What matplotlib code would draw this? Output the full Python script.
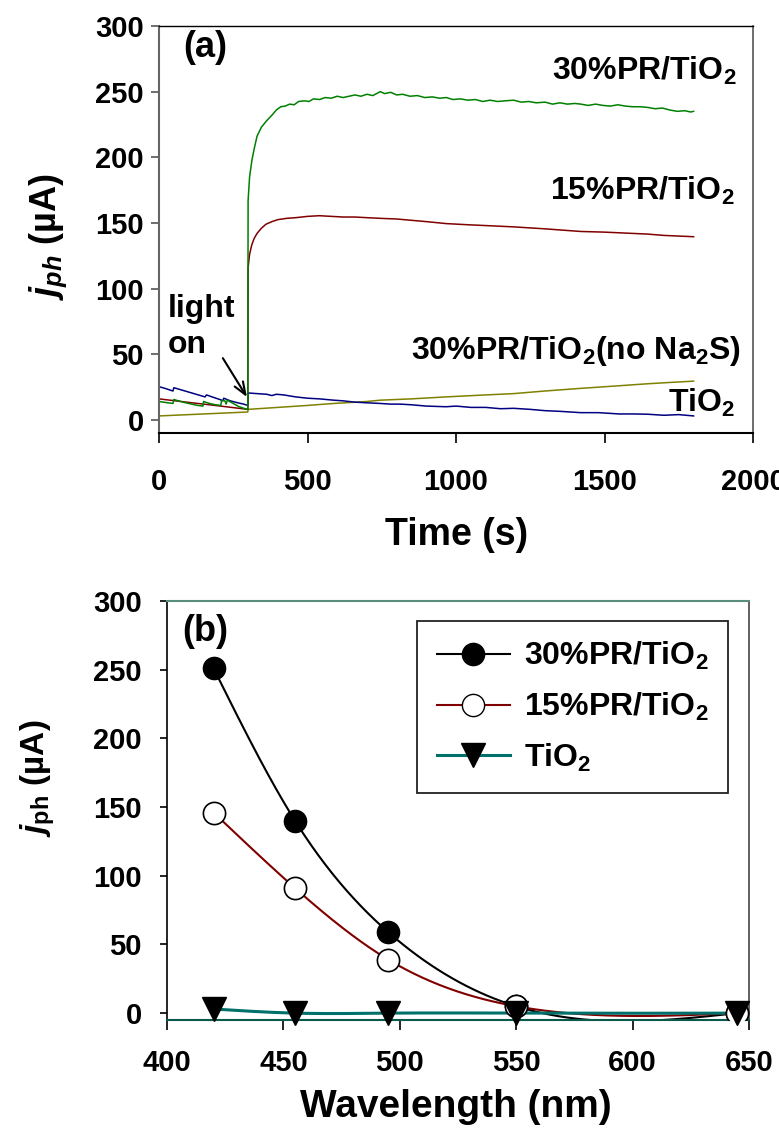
import numpy as np
import matplotlib
matplotlib.use("Agg")
import matplotlib.pyplot as plt
from matplotlib.lines import Line2D

plt.rcParams["font.family"] = "Liberation Sans"
plt.rcParams["font.weight"] = "bold"
plt.rcParams["mathtext.fontset"] = "custom"
plt.rcParams["mathtext.rm"] = "Liberation Sans:bold"
plt.rcParams["mathtext.it"] = "Liberation Sans:italic:bold"
plt.rcParams["mathtext.bf"] = "Liberation Sans:bold"

# ---------------- panel (a): photocurrent vs time ----------------
t_30 = [0, 15, 30, 47, 50, 70, 90, 110, 130, 148, 150, 170, 190, 208, 211, 222, 226, 230,
        250, 270, 290, 299, 300, 305, 313, 322, 330, 345, 363, 380, 395, 410, 425, 440,
        455, 470, 490, 505, 520, 540, 560, 580, 600, 620, 640, 660, 680, 700, 720, 745,
        760, 780, 800, 820, 845, 870, 895, 920, 945, 967, 990, 1015, 1040, 1065, 1090,
        1115, 1140, 1165, 1194, 1220, 1245, 1270, 1300, 1325, 1350, 1375, 1400, 1420,
        1445, 1470, 1495, 1520, 1545, 1570, 1595, 1620, 1645, 1670, 1695, 1720, 1745,
        1770, 1790, 1800]
j_30 = [14.0, 13.5, 13.0, 12.5, 15.5, 14.2, 13.0, 12.0, 11.0, 10.5, 14.0, 12.5, 11.5, 11.0,
        15.0, 14.5, 12.0, 15.0, 12.5, 10.0, 8.5, 8.0, 167, 185, 198, 208, 216, 223, 228,
        232, 236, 238.5, 239, 240.5, 240, 242.5, 243, 242.5, 244.5, 244, 245.5, 245, 246.5,
        245.5, 246.5, 247.5, 246.5, 248, 247, 250, 248.5, 249.5, 247.5, 248, 246.5, 247,
        245.5, 246, 245, 245.5, 244, 244.5, 243.5, 244, 242.5, 243.5, 242.5, 243, 243.5,
        242, 242.5, 241.5, 242, 240.5, 241.5, 240.5, 241, 240.5, 239.5, 240.5, 239.5, 239,
        240, 239, 238.5, 238.5, 238, 237, 237.5, 236, 235, 235.5, 234.5, 235]

t_15 = [0, 100, 200, 299, 300, 305, 312, 320, 330, 345, 360, 380, 400, 430, 460, 500, 540,
        580, 620, 660, 700, 745, 800, 850, 900, 967, 1050, 1100, 1194, 1300, 1420, 1500,
        1645, 1700, 1800]
j_15 = [16, 13.3, 10.7, 8, 116, 126, 133, 138, 142, 146, 149, 151, 152.5, 153.5, 154, 155,
        155.5, 155, 154.5, 154.5, 154, 153.5, 153, 152, 151, 149.5, 148.5, 148, 147, 145.5,
        143.5, 143, 141.5, 140.5, 139.5]

t_ti = [0, 20, 40, 47, 50, 80, 110, 140, 155, 160, 185, 205, 215, 218, 240, 265, 285, 299,
        300, 330, 363, 380, 395, 420, 460, 500, 540, 588, 620, 660, 700, 745, 780, 812, 850,
        900, 967, 1000, 1050, 1100, 1150, 1194, 1250, 1300, 1350, 1420, 1480, 1550, 1600,
        1645, 1700, 1750, 1800]
j_ti = [25.3, 24, 22.5, 22, 24.5, 22.5, 20.5, 18.5, 17.5, 19, 17, 15.5, 14.5, 16.5, 14.5, 13,
        12, 11, 20.5, 20, 19.5, 18.5, 19.5, 19, 17.5, 16.5, 16, 15, 14.5, 13.5, 13, 12.5, 12,
        12, 11.5, 10.5, 10, 10.5, 9.5, 9.5, 8.5, 8.8, 8, 7, 6.5, 5.5, 5.5, 4.5, 4.5, 4.3, 3.5,
        4, 3]

t_nos = [0, 100, 200, 299, 300, 400, 500, 588, 700, 745, 850, 967, 1100, 1194, 1300, 1420,
         1550, 1645, 1720, 1800]
j_nos = [3, 4, 5, 6, 8, 9.5, 11, 12.5, 14, 15, 16, 17.5, 19, 20, 22, 24, 26, 27.5, 28.5, 29.5]

# ---------------- panel (b): photocurrent vs wavelength ----------------
wavelength = [420, 455, 495, 550, 645]
jb_30 = [251, 140, 59, 5, 0]
jb_15 = [146, 91, 39, 5, 0]
jb_ti = [3, 0, 0, 0, 0]


def smooth_curve(x, y, n=300):
    """Natural cubic spline through the points (drawing helper for the smooth line)."""
    x = np.asarray(x, float)
    y = np.asarray(y, float)
    h = np.diff(x)
    m = len(x)
    A = np.zeros((m, m))
    b = np.zeros(m)
    A[0, 0] = A[-1, -1] = 1
    for i in range(1, m - 1):
        A[i, i - 1] = h[i - 1]
        A[i, i] = 2 * (h[i - 1] + h[i])
        A[i, i + 1] = h[i]
        b[i] = 3 * ((y[i + 1] - y[i]) / h[i] - (y[i] - y[i - 1]) / h[i - 1])
    c = np.linalg.solve(A, b)
    xs = np.linspace(x[0], x[-1], n)
    idx = np.clip(np.searchsorted(x, xs) - 1, 0, m - 2)
    dx = xs - x[idx]
    bc = (y[idx + 1] - y[idx]) / h[idx] - h[idx] * (2 * c[idx] + c[idx + 1]) / 3
    d = (c[idx + 1] - c[idx]) / (3 * h[idx])
    return xs, y[idx] + bc * dx + c[idx] * dx ** 2 + d * dx ** 3


W, H = 779, 1144
fig = plt.figure(figsize=(W / 100, H / 100), dpi=100)

# ---------- (a) ----------
axa = fig.add_axes([159 / W, 1 - 433 / H, 594 / W, 407 / H])
axa.plot(t_nos, j_nos, color="#808000", lw=1.1)
axa.plot(t_ti, j_ti, color="#000080", lw=1.1)
axa.plot(t_15, j_15, color="#800000", lw=1.1)
axa.plot(t_30, j_30, color="#008000", lw=1.1)
axa.set_xlim(0, 2000)
axa.set_ylim(-10, 300)
axa.set_xticks([0, 500, 1000, 1500, 2000])
axa.set_yticks([0, 50, 100, 150, 200, 250, 300])
axa.tick_params(axis="x", direction="out", length=7, width=1.2, pad=18, labelsize=21)
axa.tick_params(axis="y", direction="out", length=6, width=1.2, pad=5, labelsize=21,
                color="#555555")
axa.spines["left"].set_color("#666666")
axa.spines["left"].set_linewidth(1.5)
axa.spines["bottom"].set_linewidth(1.5)
axa.spines["top"].set_linewidth(1.0)
axa.spines["right"].set_color("#555555")
axa.spines["right"].set_linewidth(1.2)

axa.text(80, 284, "(a)", fontsize=26, va="center", ha="left")
txt = dict(fontsize=23, ha="right", va="baseline")
axa.text(1946, 259, r"30%PR/TiO$_2$", **txt)
axa.text(1939, 167.5, r"15%PR/TiO$_2$", **txt)
axa.text(1960, 46.4, r"30%PR/TiO$_2$(no Na$_2$S)", **txt)
axa.text(1939, 6, r"TiO$_2$", **txt)
axa.text(30, 78.6, "light", fontsize=23, ha="left", va="baseline")
axa.text(30, 51, "on", fontsize=23, ha="left", va="baseline")
axa.annotate("", xy=(296, 17.4), xytext=(215, 47),
             arrowprops=dict(arrowstyle="->,head_length=0.9,head_width=0.35",
                             color="black", lw=1.5, shrinkA=0, shrinkB=0))

fig.text(48 / W, 1 - 236 / H, r"$j_{ph}$ (µA)", fontsize=26, rotation=90,
         ha="center", va="center")
fig.text(457 / W, 1 - 535 / H, "Time (s)", fontsize=27, ha="center", va="center")

# ---------- (b) ----------
axb = fig.add_axes([167 / W, 1 - 1020 / H, 582 / W, 419 / H])
xs, ys = smooth_curve(wavelength, jb_30)
axb.plot(xs, ys, color="black", lw=1.5, zorder=2)
xs, ys = smooth_curve(wavelength, jb_15)
axb.plot(xs, ys, color="#800000", lw=1.5, zorder=2)
xs, ys = smooth_curve(wavelength, jb_ti)
axb.plot(xs, ys, color="#00706a", lw=2.2, zorder=3)
axb.plot(wavelength, jb_30, ls="none", marker="o", ms=16, mfc="black", mec="black", zorder=4)
axb.plot(wavelength, jb_15, ls="none", marker="o", ms=16, mfc="white", mec="black",
         mew=1.2, zorder=5)
axb.plot(wavelength, jb_ti, ls="none", marker="v", ms=17, mfc="black", mec="black",
         zorder=6, clip_on=False)
axb.set_xlim(400, 650)
axb.set_ylim(-5, 300)
axb.set_xticks([400, 450, 500, 550, 600, 650])
axb.set_yticks([0, 50, 100, 150, 200, 250, 300])
axb.tick_params(axis="x", direction="out", length=7, width=1.2, pad=14, labelsize=21)
axb.tick_params(axis="y", direction="out", length=5, width=1.2, pad=13, labelsize=21)
axb.spines["top"].set_color("#5a8f80")
axb.spines["top"].set_linewidth(1.5)
axb.spines["bottom"].set_color("#0a5a4a")
axb.spines["bottom"].set_linewidth(1.5)
axb.spines["left"].set_linewidth(1.2)
axb.spines["right"].set_color("#444444")
axb.spines["right"].set_linewidth(1.2)

axb.text(406.5, 277.5, "(b)", fontsize=26, va="center", ha="left")

handles = [
    Line2D([], [], color="black", lw=1.5, marker="o", ms=16, mfc="black", mec="black"),
    Line2D([], [], color="#800000", lw=1.5, marker="o", ms=16, mfc="white", mec="black"),
    Line2D([], [], color="#00706a", lw=2.2, marker="v", ms=17, mfc="black", mec="black"),
]
leg = axb.legend(handles, [r"30%PR/TiO$_2$", r"15%PR/TiO$_2$", r"TiO$_2$"],
                 loc="upper right", bbox_to_anchor=(0.964, 0.952), fontsize=23,
                 frameon=True, fancybox=False, edgecolor="#222222", framealpha=1,
                 handlelength=2.3, handletextpad=0.45, labelspacing=0.58,
                 borderpad=0.6, borderaxespad=0)
leg.get_frame().set_linewidth(1.3)

fig.text(38 / W, 1 - 778 / H, r"$j_{\mathrm{ph}}$ (µA)", fontsize=24, rotation=90,
         ha="center", va="center")
fig.text(456 / W, 1 - 1107 / H, "Wavelength (nm)", fontsize=28, ha="center", va="center")

fig.savefig("out.png", dpi=100)
